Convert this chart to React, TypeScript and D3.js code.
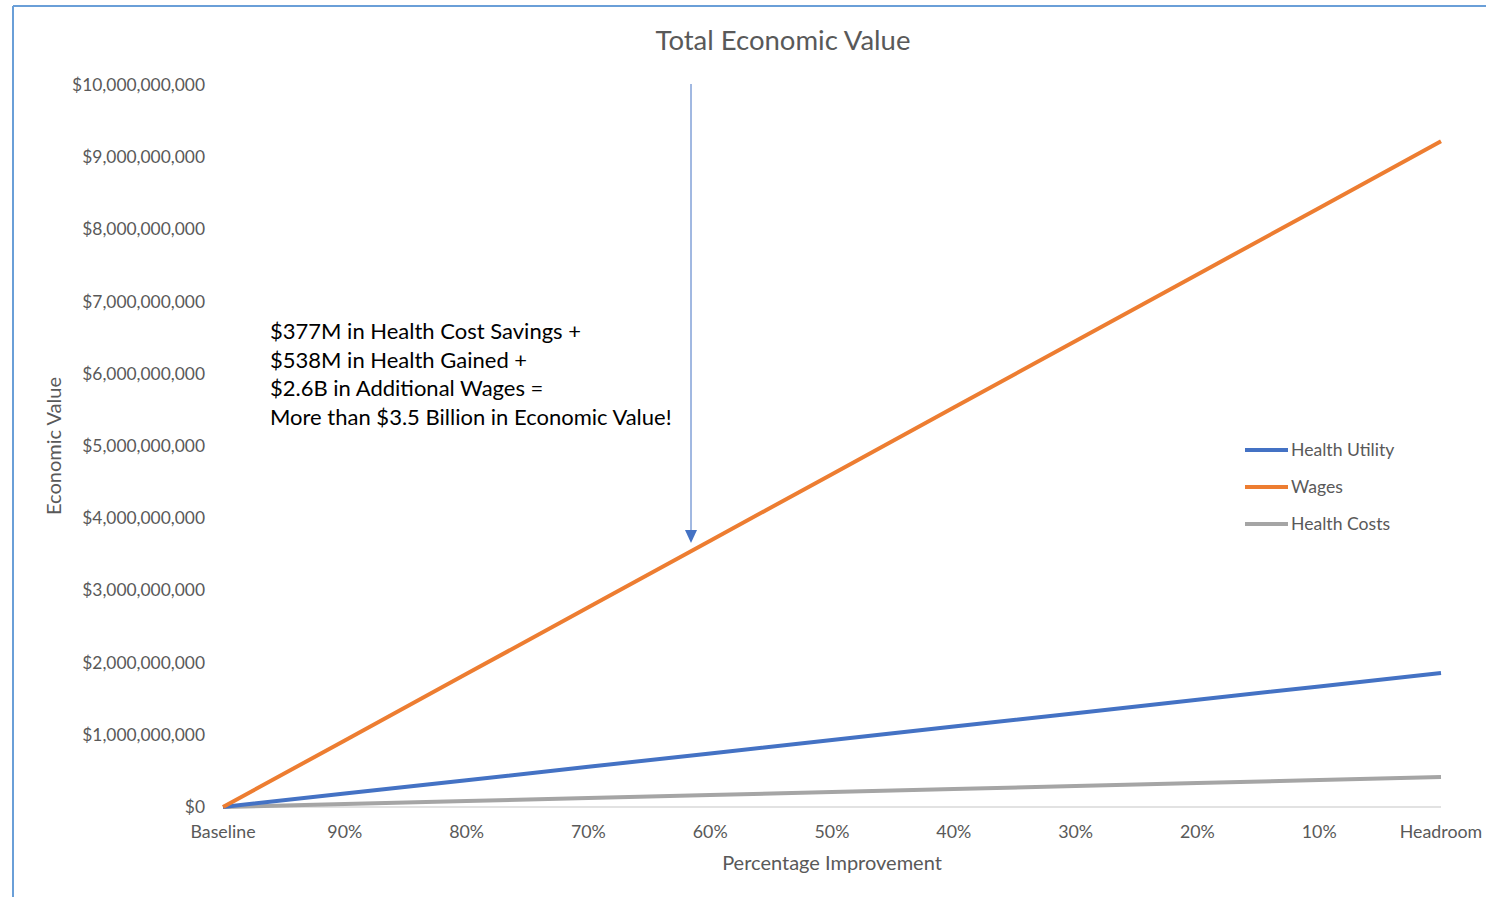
import React from "react";
import * as d3 from "d3";

// Scenario steps along the x axis
const categories = ["Baseline", "90%", "80%", "70%", "60%", "50%", "40%", "30%", "20%", "10%", "Headroom"];

// Economic value per scenario, in dollars
const healthUtility = [0, 0.186e9, 0.371e9, 0.557e9, 0.742e9, 0.928e9, 1.114e9, 1.299e9, 1.485e9, 1.67e9, 1.856e9];
const wages = [0, 0.922e9, 1.844e9, 2.766e9, 3.688e9, 4.61e9, 5.532e9, 6.454e9, 7.376e9, 8.298e9, 9.22e9];
const healthCosts = [0, 0.0415e9, 0.083e9, 0.1245e9, 0.166e9, 0.2075e9, 0.249e9, 0.2905e9, 0.332e9, 0.3735e9, 0.415e9];

const yTicks = [0, 1e9, 2e9, 3e9, 4e9, 5e9, 6e9, 7e9, 8e9, 9e9, 10e9];

const annotationLines = [
  "$377M in Health Cost Savings +",
  "$538M in Health Gained +",
  "$2.6B in Additional Wages =",
  "More than $3.5 Billion in Economic Value!",
];

const series = [
  { name: "Health Utility", values: healthUtility, color: "#4472c4" },
  { name: "Wages", values: wages, color: "#ed7d31" },
  { name: "Health Costs", values: healthCosts, color: "#a5a5a5" },
];

const W = 1486;
const H = 897;
const FONT = "Lato, 'Open Sans', sans-serif";
const TEXT = "#595959";

export default function App() {
  const x = d3.scalePoint<string>().domain(categories).range([223, 1441]);
  const y = d3.scaleLinear().domain([0, 10e9]).range([807, 85]);
  const fmt = (v: number) => "$" + d3.format(",")(v);

  const line = d3
    .line<number>()
    .x((_, i) => x(categories[i]) as number)
    .y((v) => y(v));

  // Drawing order: gray below, blue, orange on top
  const drawOrder = [series[2], series[0], series[1]];

  const arrowX = 691;

  return (
    <svg
      width={W}
      height={H}
      style={{ position: "absolute", left: 0, top: 0, display: "block", background: "#fff" }}
    >
      {/* chart frame */}
      <line x1={13} y1={6} x2={13} y2={H} stroke="#6a9fd8" strokeWidth={2} />
      <line x1={13} y1={6} x2={W} y2={6} stroke="#6a9fd8" strokeWidth={2} />

      {/* title */}
      <text x={783} y={50} textAnchor="middle" fontFamily={FONT} fontSize={27.5} fill={TEXT}>
        Total Economic Value
      </text>

      {/* y tick labels */}
      {yTicks.map((t) => (
        <text key={t} x={205} y={y(t)} dy="0.35em" textAnchor="end" fontFamily={FONT} fontSize={17.4} fill={TEXT}>
          {fmt(t)}
        </text>
      ))}

      {/* x axis baseline */}
      <line x1={223} x2={1441} y1={y(0)} y2={y(0)} stroke="#d9d9d9" strokeWidth={1.5} />

      {/* x tick labels */}
      {categories.map((c) => (
        <text key={c} x={x(c)} y={838} textAnchor="middle" fontFamily={FONT} fontSize={17.8} fill={TEXT}>
          {c}
        </text>
      ))}

      {/* axis titles */}
      <text x={832} y={870} textAnchor="middle" fontFamily={FONT} fontSize={20} fill={TEXT}>
        Percentage Improvement
      </text>
      <text
        transform={`translate(61,446) rotate(-90)`}
        textAnchor="middle"
        fontFamily={FONT}
        fontSize={20}
        fill={TEXT}
      >
        Economic Value
      </text>

      {/* series lines */}
      {drawOrder.map((s) => (
        <path key={s.name} d={line(s.values) || ""} fill="none" stroke={s.color} strokeWidth={4} strokeLinecap="butt" strokeLinejoin="round" />
      ))}

      {/* annotation */}
      <line x1={arrowX} x2={arrowX} y1={84} y2={532} stroke="#4472c4" strokeWidth={1} />
      <path d={`M${arrowX - 6},530 L${arrowX + 6},530 L${arrowX},543 Z`} fill="#4472c4" />
      {annotationLines.map((l, i) => (
        <text key={i} x={270} y={339 + i * 28.7} fontFamily={FONT} fontSize={22} fill="#000">
          {l}
        </text>
      ))}

      {/* legend */}
      {series.map((s, i) => (
        <g key={s.name} transform={`translate(1245,${450 + i * 37})`}>
          <line x1={0} x2={43} y1={0} y2={0} stroke={s.color} strokeWidth={4} />
          <text x={46} y={0} dy="0.35em" fontFamily={FONT} fontSize={17.6} fill={TEXT}>
            {s.name}
          </text>
        </g>
      ))}
    </svg>
  );
}
